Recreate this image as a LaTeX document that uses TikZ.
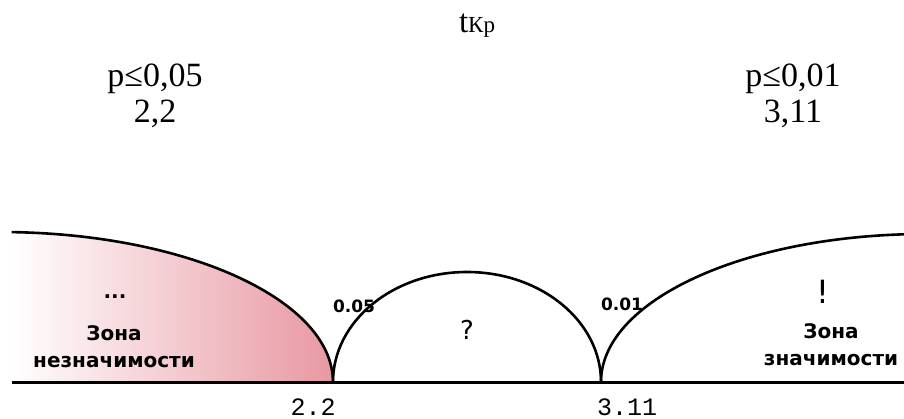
\documentclass[tikz,border=0pt]{standalone}
\usepackage{fontspec}
\setmainfont{Liberation Serif}
\newfontfamily\zonefont{DejaVu Sans}
\newfontfamily\axisfont{Liberation Mono}
\usetikzlibrary{positioning}
\definecolor{zonepink}{RGB}{232,152,162}

\begin{document}
\begin{tikzpicture}[
    x=1pt, y=1pt,
    curve/.style={draw, line width=2.6pt},
    zone/.style={font=\zonefont\bfseries\fontsize{20}{27}\selectfont, align=center, anchor=base},
    level/.style={font=\zonefont\bfseries\fontsize{17}{18}\selectfont, anchor=base},
    sign/.style={font=\zonefont\fontsize{26}{28}\selectfont, anchor=base},
    tick/.style={font=\axisfont\fontsize{25}{26}\selectfont, anchor=base},
    head/.style={font=\fontsize{34}{36}\selectfont, align=center, anchor=base}
]
    \useasboundingbox (0,0) rectangle (904,418);

    % Zone of non-significance
    \shade[left color=white, right color=zonepink]
        (12,36) -- (11.6,185.9) arc[start angle=88, end angle=0, x radius=333, y radius=150] -- cycle;
    \draw[curve] (11.6,185.9) arc[start angle=88, end angle=0, x radius=333, y radius=150];

    % Uncertainty zone
    \draw[curve] (333,36) arc[start angle=180, end angle=0, x radius=134, y radius=110];

    % Zone of significance
    \draw[curve] (601,36) arc[start angle=180, end angle=93.7, x radius=324, y radius=148];

    % Axis
    \draw[line width=3pt] (12,36) -- (904,36);

    % Critical values
    \node[tick] (low) at (313,3) {2.2};
    \node[tick] (high) at (627,3) {3.11};

    % Zone labels (base = last line)
    \node[zone] (dots) at (115,120) {...};
    \node[zone] (nonsig) at (114,51) {Зона\\незначимости};
    \node[level] (plow) at (354,106) {0.05};
    \node[sign] (query) at (467,79) {?};
    \node[level] (phigh) at (622,108) {0.01};
    \node[sign, font=\zonefont\fontsize{32}{34}\selectfont] (mark) at (823,115) {!};
    \node[zone] (sig) at (831,53) {Зона\\значимости};

    % Table of critical values
    \node[anchor=base, font=\fontsize{33}{34}\selectfont] (tcrit) at (477,385) {t{\fontsize{23}{24}\selectfont Кр}};
    \node[head] (left) at (155,295) {p≤0,05\\2,2};
    \node[head] (right) at (793,295) {p≤0,01\\3,11};
\end{tikzpicture}
\end{document}
